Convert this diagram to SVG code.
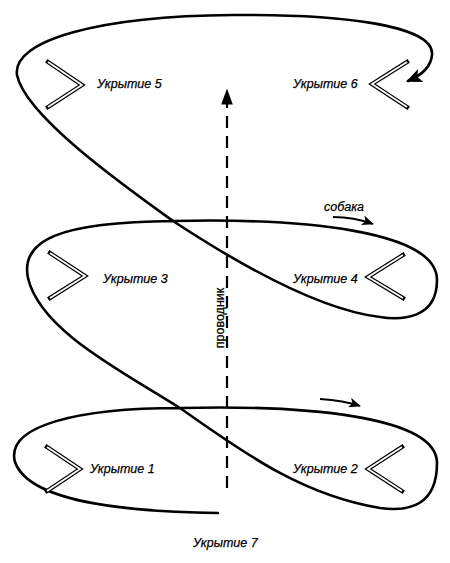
<svg xmlns="http://www.w3.org/2000/svg" width="450" height="563" viewBox="0 0 450 563">
<style>
.lbl{font-family:"Liberation Sans",Arial,sans-serif;font-style:italic;font-size:12.5px;fill:#000;stroke:#000;stroke-width:0.25}
.route{fill:none;stroke:#000;stroke-width:2.6;stroke-linecap:round;stroke-linejoin:round}
.chev-o{fill:none;stroke:#000;stroke-width:4.2;stroke-linejoin:miter;stroke-linecap:square}
.chev-i{fill:none;stroke:#fff;stroke-width:1.8;stroke-linejoin:miter;stroke-linecap:butt}
.small{fill:none;stroke:#000;stroke-width:1.8}
</style>
<defs>
<marker id="bigHead" markerWidth="16" markerHeight="14" refX="14" refY="7" orient="auto" markerUnits="userSpaceOnUse">
<path d="M0,0 L16,7 L0,14 L4,7 Z" fill="#000"/>
</marker>
<marker id="smallHead" markerWidth="12" markerHeight="10" refX="11" refY="5" orient="auto" markerUnits="userSpaceOnUse">
<path d="M0,0 L12,5 L0,10 L3,5 Z" fill="#000"/>
</marker>
<marker id="dashHead" markerWidth="16" markerHeight="22" refX="20" refY="8" orient="auto" markerUnits="userSpaceOnUse" viewBox="0 0 22 16">
<path d="M0,0 L22,8 L0,16 Z" fill="#000"/>
</marker>
</defs>
<rect width="450" height="563" fill="#fff"/>
<g id="connectors">
<path id="dog-route" class="route" marker-end="url(#bigHead)" d="M218,513 C140,512 30,505 15,462 C5,425 80,408 180,408 C300,405 437,415 437,463 C437,505 410,512 380,508 C300,495 240,450 180,408 C120,370 40,330 28,278 C20,240 60,222 173,221 C300,218 437,230 437,280 C437,320 400,320 380,317 C320,310 240,265 173,221 C120,183 25,115 17,75 C12,40 100,16 233,15 C340,14 435,25 432,55 C431,66 422,75 408,81"/>
<line id="handler" x1="227" y1="488" x2="227" y2="90" stroke="#000" stroke-width="2.2" stroke-dasharray="12,8" marker-end="url(#dashHead)"/>
<path id="dog-arrow" class="small" marker-end="url(#smallHead)" d="M333,217 C350,217 362,220 373,224"/>
<path id="lower-arrow" class="small" marker-end="url(#smallHead)" d="M320,399 C335,400 348,402 360,406"/>
</g>
<g id="cover5"><polyline class="chev-o" points="48,62 82,85 48,107"/><polyline class="chev-i" points="48,62 82,85 48,107"/><text class="lbl" x="97" y="88">Укрытие 5</text></g>
<g id="cover6"><polyline class="chev-o" points="407,62 372,84 407,107"/><polyline class="chev-i" points="407,62 372,84 407,107"/><text class="lbl" x="293" y="88">Укрытие 6</text></g>
<g id="cover3"><polyline class="chev-o" points="50,253 85,276 50,298"/><polyline class="chev-i" points="50,253 85,276 50,298"/><text class="lbl" x="103" y="283">Укрытие 3</text></g>
<g id="cover4"><polyline class="chev-o" points="403,255 368,277 403,298"/><polyline class="chev-i" points="403,255 368,277 403,298"/><text class="lbl" x="293" y="283">Укрытие 4</text></g>
<g id="cover1"><polyline class="chev-o" points="47,447 80,469 47,491"/><polyline class="chev-i" points="47,447 80,469 47,491"/><text class="lbl" x="90" y="473">Укрытие 1</text></g>
<g id="cover2"><polyline class="chev-o" points="402,447 368,469 402,491"/><polyline class="chev-i" points="402,447 368,469 402,491"/><text class="lbl" x="293" y="473">Укрытие 2</text></g>
<g id="cover7"><text class="lbl" x="193" y="547">Укрытие 7</text></g>
<g id="dog-label"><text class="lbl" x="324" y="211" font-size="13">собака</text></g>
<g id="handler-label"><text class="lbl" transform="translate(224,318) rotate(-90)" text-anchor="middle" style="font-style:normal">проводник</text></g>
</svg>
